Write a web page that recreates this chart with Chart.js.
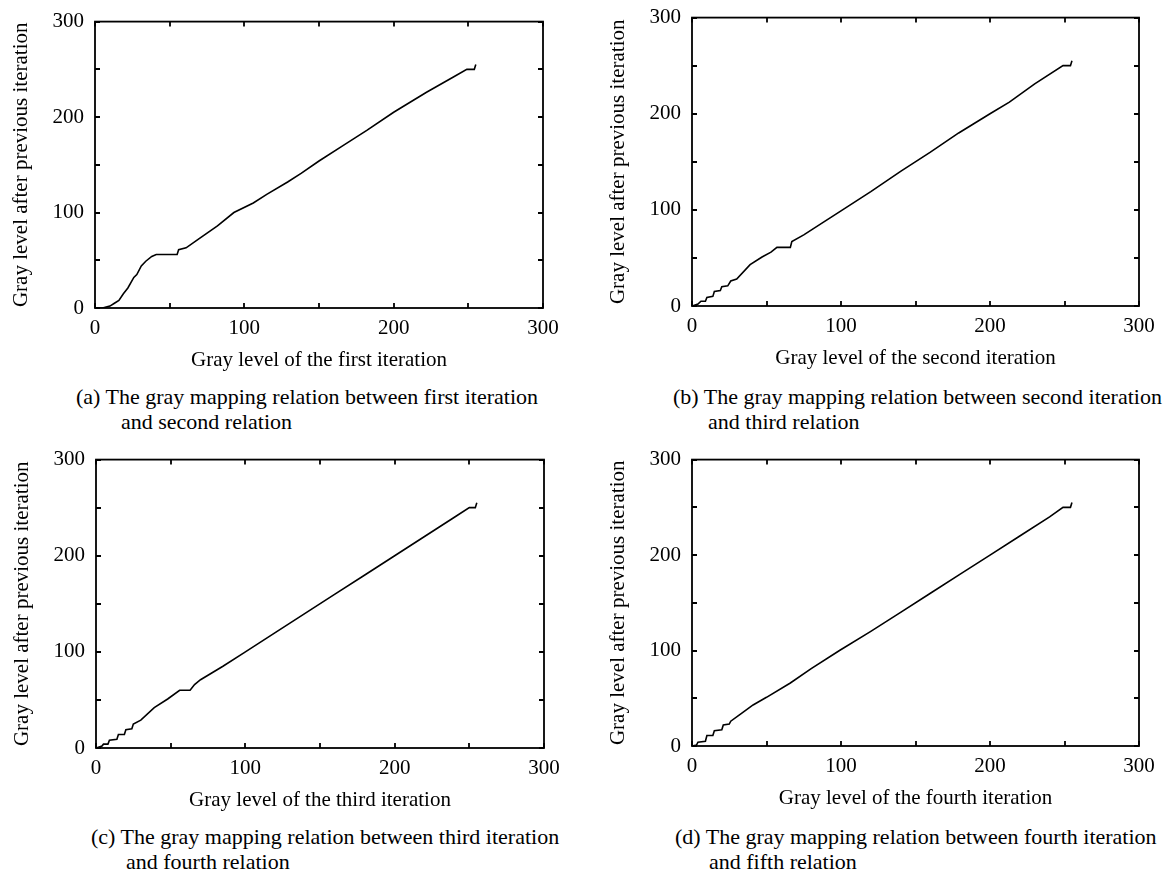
<!DOCTYPE html>
<html>
<head>
<meta charset="utf-8">
<script src="https://cdn.jsdelivr.net/npm/chart.js@4.4.0/dist/chart.umd.min.js"></script>
<style>
  body { margin: 0; background: #fff; width: 1172px; height: 878px; position: relative; overflow: hidden;
         font-family: 'Liberation Serif', 'Times New Roman', serif; color: #000; }
  canvas { position: absolute; }
  .cap { position: absolute; font-size: 22px; line-height: 24px; white-space: nowrap; }
</style>
</head>
<body>
<canvas id="chartA"></canvas>
<canvas id="chartB"></canvas>
<canvas id="chartC"></canvas>
<canvas id="chartD"></canvas>

<div class="cap" style="left:76px;top:385px">(a) The gray mapping relation between first iteration</div>
<div class="cap" style="left:121px;top:410px">and second relation</div>
<div class="cap" style="left:673px;top:385px">(b) The gray mapping relation between second iteration</div>
<div class="cap" style="left:708px;top:410px">and third relation</div>
<div class="cap" style="left:91px;top:825px">(c) The gray mapping relation between third iteration</div>
<div class="cap" style="left:126px;top:850px">and fourth relation</div>
<div class="cap" style="left:675px;top:825px">(d) The gray mapping relation between fourth iteration</div>
<div class="cap" style="left:709px;top:850px">and fifth relation</div>

<script>
// gray level mappings
const xa = [0, 5, 10, 13, 16, 19, 22, 26, 28, 31, 34, 38, 41, 55, 56, 61, 70, 82, 93, 106, 115, 129, 138, 150, 165, 182, 200, 222, 240, 249, 254, 255];
const ya = [0, 0, 2, 5, 8, 15, 21, 32, 35, 44, 49, 54, 56, 56, 61, 63, 73, 86, 100, 110, 119, 132, 141, 154, 169, 186, 205, 226, 242, 250, 250, 255];

const xb = [0, 4, 6, 9, 10, 14, 15, 19, 20, 24, 26, 30, 39, 47, 53, 57, 66, 67, 75, 88, 100, 120, 140, 160, 179, 200, 213, 230, 249, 254, 255];
const yb = [0, 2, 5, 5, 9, 10, 15, 16, 20, 21, 26, 28, 43, 51, 56, 61, 61, 67, 74, 87, 99, 119, 140, 160, 180, 200, 212, 231, 250, 250, 255];

const xc = [0, 4, 5, 8, 9, 14, 15, 19, 20, 24, 25, 30, 39, 48, 56, 63, 66, 70, 85, 99, 120, 140, 160, 180, 200, 220, 240, 250, 254, 255];
const yc = [0, 2, 4, 4, 8, 9, 14, 14, 19, 20, 25, 29, 42, 51, 60, 60, 66, 71, 85, 99, 120, 140, 160, 180, 200, 220, 240, 250, 250, 255];

const xd = [0, 3, 4, 9, 10, 14, 15, 20, 21, 25, 26, 33, 41, 50, 66, 80, 99, 120, 140, 160, 180, 200, 220, 240, 249, 254, 255];
const yd = [0, 1, 4, 5, 11, 11, 16, 17, 22, 23, 26, 34, 43, 51, 66, 81, 100, 120, 140, 160, 180, 200, 220, 240, 250, 250, 255];

const axisMax = 300;
const tickStep = 50;
const yTitle = 'Gray level after previous iteration';

// box with inward tick marks on all four sides
const frameTicks = {
  id: 'frameTicks',
  afterDatasetsDraw(chart) {
    const { ctx, chartArea: a, scales: { x, y } } = chart;
    ctx.save();
    ctx.strokeStyle = '#000';
    ctx.lineWidth = 1.8;
    ctx.strokeRect(a.left, a.top, a.right - a.left, a.bottom - a.top);
    ctx.beginPath();
    x.ticks.forEach(t => {
      const px = Math.round(x.getPixelForValue(t.value));
      ctx.moveTo(px, a.bottom); ctx.lineTo(px, a.bottom - 5);
      ctx.moveTo(px, a.top); ctx.lineTo(px, a.top + 5);
    });
    y.ticks.forEach(t => {
      const py = Math.round(y.getPixelForValue(t.value));
      ctx.moveTo(a.left, py); ctx.lineTo(a.left + 5, py);
      ctx.moveTo(a.right, py); ctx.lineTo(a.right - 5, py);
    });
    ctx.stroke();
    ctx.restore();
  }
};

function makePanel(id, box, xs, ys, xTitle) {
  const canvas = document.getElementById(id);
  canvas.width = box.R - box.L + 125;
  canvas.height = box.B - box.T + 86;
  canvas.style.left = (box.L - 95) + 'px';
  canvas.style.top = (box.T - 16) + 'px';

  const font = { family: "'Liberation Serif', 'Times New Roman', serif", size: 21 };
  const label = v => (v % 100 === 0 ? v : '');

  new Chart(canvas.getContext('2d'), {
    type: 'line',
    data: {
      datasets: [{
        data: xs.map((v, i) => ({ x: v, y: ys[i] })),
        borderColor: '#000',
        borderWidth: 1.6,
        pointRadius: 0,
        tension: 0,
        fill: false
      }]
    },
    options: {
      responsive: false,
      animation: false,
      layout: { padding: { top: 16, right: 30, left: 0, bottom: 0 } },
      plugins: { legend: { display: false }, tooltip: { enabled: false } },
      scales: {
        x: {
          type: 'linear', min: 0, max: axisMax,
          grid: { display: false, drawTicks: false },
          border: { display: false },
          ticks: { stepSize: tickStep, padding: 8, color: '#000', font, callback: label, maxRotation: 0, autoSkip: false },
          title: { display: true, text: xTitle, color: '#000', font, padding: { top: 0, bottom: 5 } },
          afterFit: s => { s.height = 70; }
        },
        y: {
          type: 'linear', min: 0, max: axisMax,
          grid: { display: false, drawTicks: false },
          border: { display: false },
          ticks: { stepSize: tickStep, padding: 11, color: '#000', font, callback: label, autoSkip: false },
          title: { display: true, text: yTitle, color: '#000', font, padding: { top: 9, bottom: 0 } },
          afterFit: s => { s.width = 95; }
        }
      }
    },
    plugins: [frameTicks]
  });
}

document.addEventListener('DOMContentLoaded', function () {
  makePanel('chartA', { L: 95, R: 543, T: 14, B: 308 }, xa, ya, 'Gray level of the first iteration');
  makePanel('chartB', { L: 692, R: 1139, T: 10, B: 306 }, xb, yb, 'Gray level of the second iteration');
  makePanel('chartC', { L: 96, R: 544, T: 452, B: 748 }, xc, yc, 'Gray level of the third iteration');
  makePanel('chartD', { L: 692, R: 1139, T: 452, B: 746 }, xd, yd, 'Gray level of the fourth iteration');
});
</script>
</body>
</html>
